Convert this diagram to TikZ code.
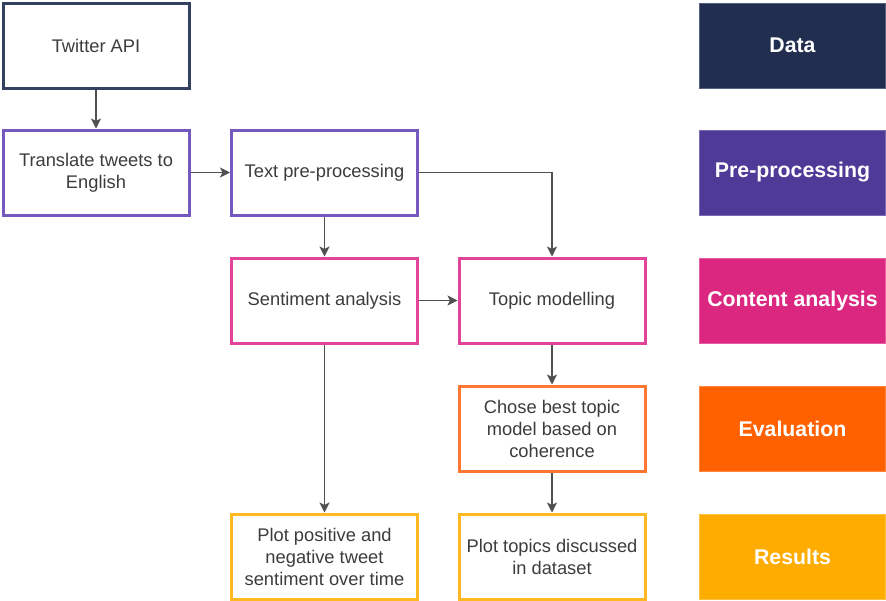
\documentclass[tikz,border=0pt]{standalone}
\usepackage{fontspec}
\setmainfont{Liberation Sans}
\usetikzlibrary{arrows.meta}

\definecolor{dataC}{HTML}{222E50}
\definecolor{dataL}{HTML}{34405F}
\definecolor{preC}{HTML}{4F3A98}
\definecolor{preL}{HTML}{7559BE}
\definecolor{contC}{HTML}{DB2780}
\definecolor{contL}{HTML}{E2449A}
\definecolor{evalC}{HTML}{FF6100}
\definecolor{evalL}{HTML}{FF7630}
\definecolor{resC}{HTML}{FFAC00}
\definecolor{resL}{HTML}{FFB820}
\definecolor{txtC}{HTML}{3C3C3C}
\definecolor{arrC}{HTML}{505050}

\tikzset{
    stepbox/.style={draw=#1, line width=3pt, fill=white, minimum width=186pt, minimum height=85pt,
        inner sep=0pt, align=center, text=txtC, font=\fontsize{18.3}{22}\selectfont},
    phase/.style={fill=#1, draw=#1!75!white, line width=1pt, minimum width=186pt, minimum height=85pt,
        inner sep=0pt, align=center, text=white, font=\fontsize{21.3}{24}\selectfont\bfseries},
    flow/.style={draw=arrC, line width=1.6pt, -{Stealth[length=10pt, width=10pt, inset=2.5pt]}}
}

\begin{document}
\begin{tikzpicture}[x=1pt, y=-1pt]

            \useasboundingbox (0,0) rectangle (886,600);

            % process boxes
            \node[stepbox=dataL] (twitter) at (96,45.5) {Twitter API};
            \node[stepbox=preL] (translate) at (96,172.5) {Translate tweets to\\English};
            \node[stepbox=preL] (preproc) at (324.5,172.5) {Text pre-processing};
            \node[stepbox=contL] (sentiment) at (324.5,300.5) {Sentiment analysis};
            \node[stepbox=contL] (topic) at (552,300.5) {Topic modelling};
            \node[stepbox=evalL] (chose) at (552,428.5) {Chose best topic\\model based on\\coherence};
            \node[stepbox=resL] (plotsent) at (324.5,556.5) {Plot positive and\\negative tweet\\sentiment over time};
            \node[stepbox=resL] (plottopic) at (552,556.5) {Plot topics discussed\\in dataset};

            % phase labels
            \node[phase=dataC] (pdata) at (792.5,45.5) {Data};
            \node[phase=preC] (ppre) at (792.5,172.5) {Pre-processing};
            \node[phase=contC] (pcont) at (792.5,300.5) {Content analysis};
            \node[phase=evalC] (peval) at (792.5,428.5) {Evaluation};
            \node[phase=resC] (pres) at (792.5,556.5) {Results};

            \draw[flow] (twitter) -- (translate);
            \draw[flow] (translate) -- (preproc);
            \draw[flow] (preproc) -- (sentiment);
            \draw[flow] (preproc.east) -| (topic.north);
            \draw[flow] (sentiment) -- (topic);
            \draw[flow] (sentiment) -- (plotsent);
            \draw[flow] (topic) -- (chose);
            \draw[flow] (chose) -- (plottopic);

          \end{tikzpicture}
\end{document}
